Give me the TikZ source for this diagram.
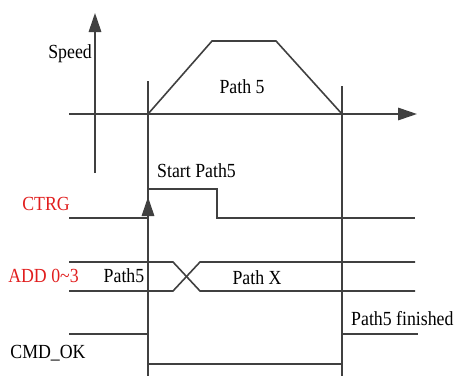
\documentclass[tikz,border=0pt]{standalone}
\usepackage{fontspec}
\setmainfont{Liberation Serif}[FakeStretch=0.89]
\usetikzlibrary{arrows.meta}
\definecolor{ln}{RGB}{64,64,64}
\definecolor{lab}{RGB}{225,30,30}
\begin{document}
\begin{tikzpicture}[x=1pt,y=-1pt,
  wave/.style={draw=ln,line width=1.6pt},
  axis/.style={draw=ln,line width=1.6pt,-{Triangle[length=19pt,width=12.5pt]}},
  txt/.style={inner sep=0pt,font=\fontsize{20}{22}\selectfont,text=black},
  redtxt/.style={txt,text=lab}]
\useasboundingbox (0,0) rectangle (458,376);
% coordinates
\coordinate (sy0) at (95,173); \coordinate (sy1) at (95,13);
\coordinate (tx0) at (69,114); \coordinate (tx1) at (417,114);
\coordinate (p0) at (148,114); \coordinate (p1) at (212,41);
\coordinate (p2) at (276,41); \coordinate (p3) at (342,114);
\coordinate (v1t) at (148,81); \coordinate (v1b) at (148,376);
\coordinate (v2t) at (342,86); \coordinate (v2b) at (342,376);
% axes
\draw[axis] (sy0) -- (sy1);
\draw[axis] (tx0) -- (tx1);
\draw[wave] (p0) -- (p1) -- (p2) -- (p3);
\draw[wave] (v1t) -- (v1b);
\draw[wave] (v2t) -- (v2b);
% CTRG
\coordinate (c0) at (69,218); \coordinate (c1) at (148,218);
\coordinate (c2) at (148,189); \coordinate (c3) at (217,189);
\coordinate (c4) at (217,218); \coordinate (c5) at (415,218);
\coordinate (ca) at (148,197);
\draw[wave] (c0) -- (c1);
\draw[axis,shorten >=0pt] (c1) -- (ca);
\draw[wave] (c2) -- (c3) -- (c4) -- (c5);
% ADD
\coordinate (a0) at (69,262); \coordinate (a1) at (173,262);
\coordinate (a2) at (200,291); \coordinate (a3) at (415,291);
\coordinate (b0) at (69,291); \coordinate (b1) at (173,291);
\coordinate (b2) at (200,262); \coordinate (b3) at (415,262);
\draw[wave] (a0) -- (a1) -- (a2) -- (a3);
\draw[wave] (b0) -- (b1) -- (b2) -- (b3);
% CMD_OK
\coordinate (k0) at (69,334); \coordinate (k1) at (148,334);
\coordinate (k2) at (148,364); \coordinate (k3) at (342,364);
\coordinate (k4) at (342,334); \coordinate (k5) at (418,334);
\draw[wave] (k0) -- (k1);
\draw[wave] (k2) -- (k3);
\draw[wave] (k4) -- (k5);
% labels
\node[txt,anchor=east] (speed) at (92,54) {Speed};
\node[txt] (path5top) at (242,87) {Path 5};
\node[txt,anchor=west] (start) at (157,171) {Start Path5};
\node[redtxt] (ctrg) at (46,204) {CTRG};
\node[redtxt] (add) at (43.5,276) {ADD 0\textasciitilde3};
\node[txt] (p5) at (124,276) {Path5};
\node[txt] (px) at (257,278) {Path X};
\node[txt,anchor=west] (fin) at (351,319) {Path5 finished};
\node[txt] (cmd) at (48,353) {CMD\_OK};
\end{tikzpicture}
\end{document}
